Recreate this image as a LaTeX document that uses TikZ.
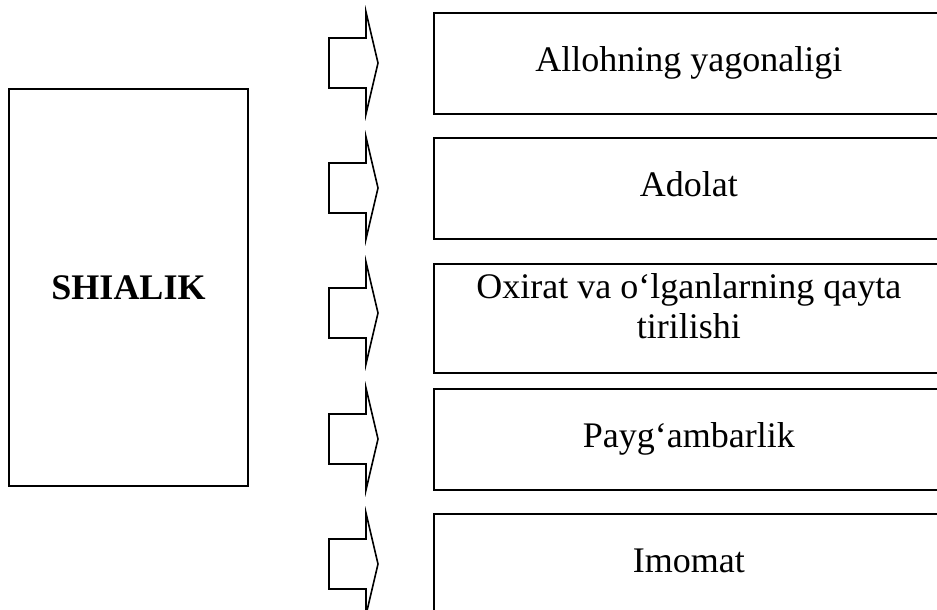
\documentclass[tikz,border=0pt]{standalone}
\usepackage{fontspec}
\setmainfont{Liberation Serif}
\begin{document}
\begin{tikzpicture}[x=1pt,y=-1pt,
  box/.style={draw,line width=1.6pt,minimum width=510pt,minimum height=101pt,
    anchor=north west,align=center,font=\fontsize{36}{40}\selectfont},
  oneline/.style={text height=25pt,text depth=8pt},
  blockarrow/.style={draw,line width=1.6pt}]
  \useasboundingbox (0,0) rectangle (937,610);
  \clip (0,0) rectangle (937,610);
  % Main box
  \node[draw,line width=1.6pt,minimum width=239pt,minimum height=397pt,
    font=\fontsize{36}{40}\selectfont\bfseries] (shia) at (128.5,287.5) {SHIALIK};
  % Items
  \node[box,oneline] (b1) at (433,12) {Allohning yagonaligi};
  \node[box,oneline] (b2) at (433,137) {Adolat};
  \node[box,minimum height=109pt] (b3) at (433,263) {};
  \node[align=center,font=\fontsize{36}{40}\selectfont] (b3text) at ([yshift=12pt]b3.center)
    {Oxirat va o‘lganlarning qayta\\tirilishi};
  \node[box,oneline] (b4) at (433,388) {Payg‘ambarlik};
  \node[box,oneline] (b5) at (433,513) {Imomat};
  % Arrows
  \foreach \y in {63,188,313,439,564}
    \draw[blockarrow] (329,\y-25) -- (366,\y-25) -- (366,\y-51) -- (378,\y)
      -- (366,\y+51) -- (366,\y+25) -- (329,\y+25) -- cycle;
\end{tikzpicture}
\end{document}
